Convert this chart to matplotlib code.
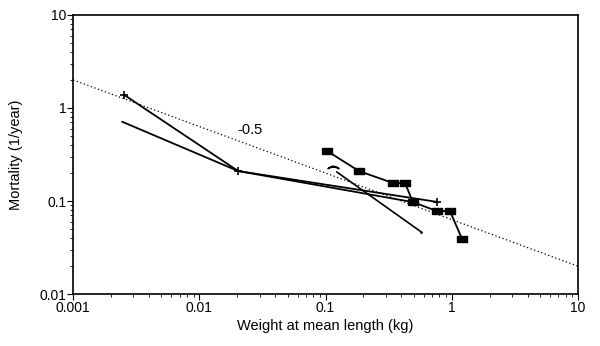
import matplotlib
matplotlib.use("Agg")
import matplotlib.pyplot as plt
import numpy as np

plt.rcParams['font.family'] = ['Liberation Sans', 'DejaVu Sans']

# Data
plus_x = [0.00254, 0.0203, 0.76]
plus_y = [1.38, 0.21, 0.098]

plain_x = [0.00245, 0.0203, 0.5]
plain_y = [0.71, 0.21, 0.097]

square_x = [0.103, 0.184, 0.343, 0.427, 0.493, 0.763, 0.97, 1.21]
square_y = [0.345, 0.21, 0.156, 0.156, 0.0975, 0.078, 0.078, 0.039]

arc_x = [0.123, 0.561]
arc_y = [0.205, 0.0476]

slope = -0.5
ref_x = [0.001, 10]
ref_coef = 0.0632

fig = plt.figure(figsize=(6.0, 3.46), dpi=100)
ax = fig.add_axes([0.122, 0.150, 0.841, 0.807])

# reference line with slope -0.5
rx = np.array(ref_x)
ax.plot(rx, ref_coef * rx ** slope, color='black', linestyle=(0, (1, 2)), linewidth=0.9)
ax.text(0.0252, 0.58, '-0.5', fontsize=10.5, ha='center', va='center')

ax.plot(plus_x, plus_y, color='black', linewidth=1.3, marker='+', markersize=6, markeredgewidth=1.2)
ax.plot(plain_x, plain_y, color='black', linewidth=1.3)

rect = [(-1, -0.6), (1, -0.6), (1, 0.6), (-1, 0.6), (-1, -0.6)]
ax.plot(square_x, square_y, color='black', linewidth=1.3, marker=rect, markersize=7.5)

ax.plot(arc_x, arc_y, color='black', linewidth=1.2)
ax.plot([arc_x[0] * 0.94], [arc_y[0] * 1.13], marker=r'$\frown$', markersize=8, color='black', linestyle='none')
ax.plot([arc_x[1] * 1.02], [arc_y[1] * 0.97], marker='.', markersize=2, color='black', linestyle='none')

ax.set_xscale('log')
ax.set_yscale('log')
ax.set_xlim(0.001, 10)
ax.set_ylim(0.01, 10)
ax.set_xticks([0.001, 0.01, 0.1, 1, 10])
ax.set_xticklabels(['0.001', '0.01', '0.1', '1', '10'])
ax.set_yticks([0.01, 0.1, 1, 10])
ax.set_yticklabels(['0.01', '0.1', '1', '10'])
ax.tick_params(which='major', direction='out', length=4, labelsize=10, pad=1)
ax.tick_params(which='minor', direction='out', length=2.5)
for s in ax.spines.values():
    s.set_linewidth(1.2)

ax.set_xlabel('Weight at mean length (kg)', fontsize=10.5, labelpad=3)
ax.set_ylabel('Mortality (1/year)', fontsize=10.5, labelpad=12)

fig.savefig('out.png', dpi=100)
